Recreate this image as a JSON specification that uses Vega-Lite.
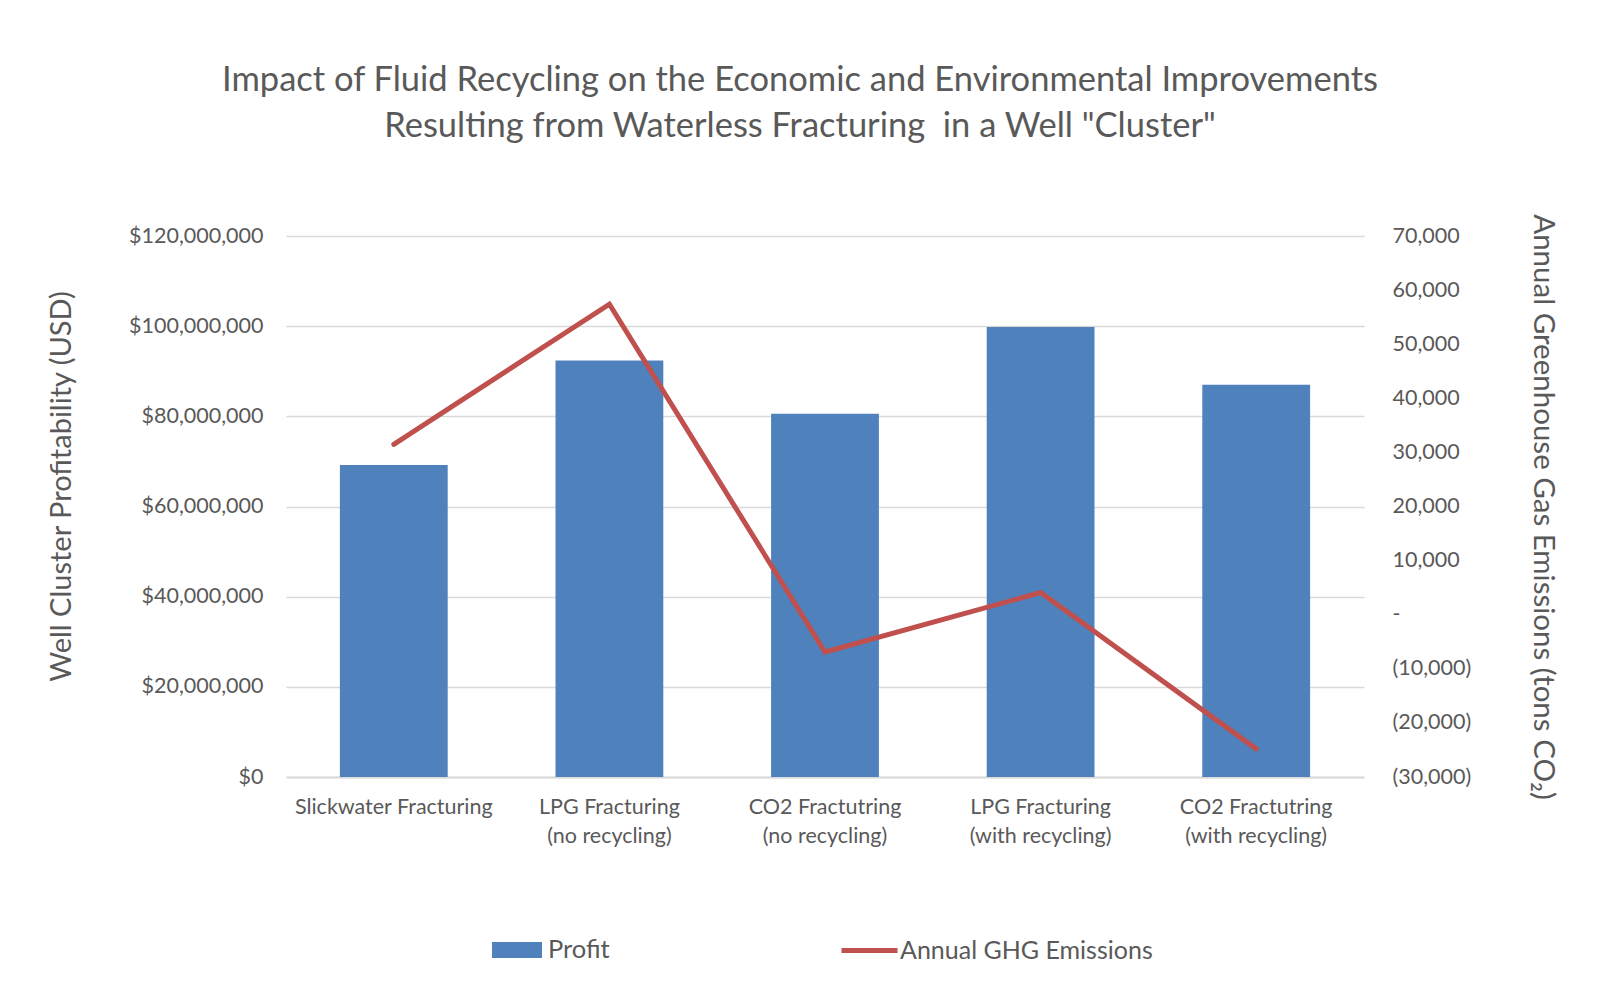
{
  "$schema": "https://vega.github.io/schema/vega-lite/v6.json",
  "width": 1078,
  "height": 541,
  "autosize": {"type": "none"},
  "padding": {"left": 286, "top": 236, "right": 249, "bottom": 216},
  "background": "white",
  "config": {
    "font": "Lato",
    "view": {"stroke": null},
    "axis": {
      "labelColor": "#595959",
      "titleColor": "#595959",
      "labelFont": "Lato",
      "titleFont": "Lato",
      "titleFontWeight": "normal",
      "ticks": false
    },
    "legend": {"labelColor": "#595959", "labelFont": "Lato"}
  },
  "title": {
    "text": [
      "Impact of Fluid Recycling on the Economic and Environmental Improvements",
      "Resulting from Waterless Fracturing \u00a0in a Well \"Cluster\""
    ],
    "font": "Lato",
    "fontSize": 34.5,
    "fontWeight": "normal",
    "color": "#595959",
    "anchor": "middle",
    "lineHeight": 46,
    "offset": 69,
    "dx": -25
  },
  "data": {
    "values": [
      {"category": "Slickwater Fracturing", "profit": 69200000, "ghg": 31500},
      {"category": "LPG Fracturing (no recycling)", "profit": 92400000, "ghg": 57400},
      {"category": "CO2 Fractutring (no recycling)", "profit": 80600000, "ghg": -6900},
      {"category": "LPG Fracturing (with recycling)", "profit": 99800000, "ghg": 4100},
      {"category": "CO2 Fractutring (with recycling)", "profit": 87000000, "ghg": -24800}
    ]
  },
  "encoding": {
    "x": {
      "field": "category",
      "type": "nominal",
      "sort": null,
      "scale": {"paddingInner": 0.5, "paddingOuter": 0.25},
      "axis": {
        "title": null,
        "labelAngle": 0,
        "labelFontSize": 21.5,
        "labelPadding": 19,
        "labelLineHeight": 29,
        "labelLimit": 400,
        "labelExpr": "split(replace(datum.value, ' (', '|('), '|')",
        "domainColor": "#D9D9D9",
        "domainWidth": 2
      }
    }
  },
  "layer": [
    {
      "mark": {"type": "bar"},
      "encoding": {
        "y": {
          "field": "profit",
          "type": "quantitative",
          "scale": {"domain": [0, 120000000], "nice": false},
          "axis": {
            "orient": "left",
            "values": [0, 20000000, 40000000, 60000000, 80000000, 100000000, 120000000],
            "format": "$,.0f",
            "grid": true,
            "gridColor": "#D9D9D9",
            "gridWidth": 1.5,
            "domain": false,
            "labelFontSize": 21.5,
            "labelPadding": 23,
            "title": "Well Cluster Profitability (USD)",
            "titleFontSize": 29,
            "titlePadding": 52,
            "titleY": 250
          }
        },
        "fill": {
          "datum": "Profit",
          "type": "nominal",
          "scale": {"range": ["#4F81BD"]},
          "legend": {
            "title": null,
            "orient": "none",
            "legendX": 206,
            "legendY": 689,
            "padding": 0,
            "symbolType": "M-1,-0.32H1V0.32H-1Z",
            "symbolSize": 2500,
            "symbolStrokeWidth": 0,
            "labelFontSize": 25.5,
            "labelLimit": 400,
            "labelOffset": 6
          }
        }
      }
    },
    {
      "mark": {"type": "line", "strokeWidth": 5, "strokeCap": "round", "strokeJoin": "miter"},
      "encoding": {
        "y": {
          "field": "ghg",
          "type": "quantitative",
          "scale": {"domain": [-30000, 70000], "nice": false},
          "axis": {
            "orient": "right",
            "values": [-30000, -20000, -10000, 0, 10000, 20000, 30000, 40000, 50000, 60000, 70000],
            "labelExpr": "datum.value == 0 ? '-' : (datum.value < 0 ? '(' + format(-datum.value, ',') + ')' : format(datum.value, ','))",
            "grid": false,
            "domain": false,
            "labelFontSize": 21.5,
            "labelPadding": 28,
            "title": "Annual Greenhouse Gas Emissions (tons CO₂)",
            "titleFontSize": 29.5,
            "titlePadding": 57
          }
        },
        "stroke": {
          "datum": "Annual GHG Emissions",
          "type": "nominal",
          "scale": {"range": ["#C0504D"]},
          "legend": {
            "title": null,
            "orient": "none",
            "legendX": 553,
            "legendY": 684,
            "padding": 0,
            "symbolType": "stroke",
            "symbolSize": 3136,
            "symbolStrokeWidth": 5,
            "labelFontSize": 25,
            "labelLimit": 400,
            "labelOffset": 0
          }
        }
      }
    }
  ],
  "resolve": {"scale": {"y": "independent", "fill": "independent", "stroke": "independent"}}
}
